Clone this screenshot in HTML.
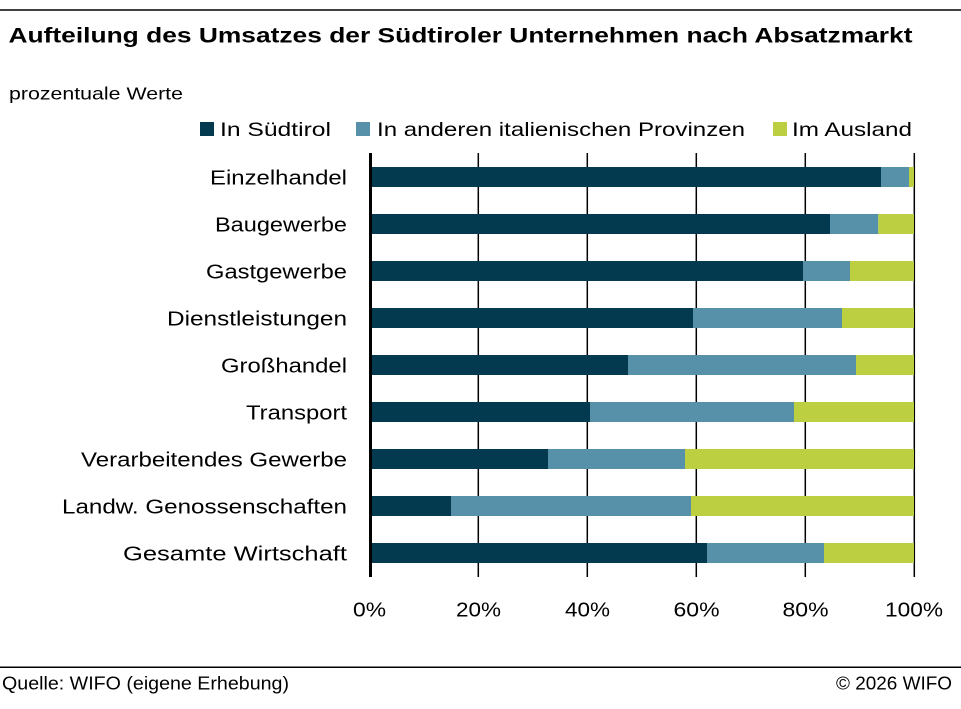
<!DOCTYPE html>
<html><head><meta charset="utf-8"><style>
html,body{margin:0;padding:0;background:#fff;}
svg{display:block;}
text{font-family:"Liberation Sans",sans-serif;fill:#000;}
</style></head><body>
<svg width="961" height="709" viewBox="0 0 961 709" xmlns="http://www.w3.org/2000/svg">
<rect width="961" height="709" fill="#fff"/>
<line x1="0" y1="10" x2="961" y2="10" stroke="#000" stroke-width="1.5"/>
<text x="8.5" y="42.5" font-size="21" font-weight="bold" textLength="904" lengthAdjust="spacingAndGlyphs">Aufteilung des Umsatzes der Südtiroler Unternehmen nach Absatzmarkt</text>
<text x="9" y="99.3" font-size="17.5" textLength="174" lengthAdjust="spacingAndGlyphs">prozentuale Werte</text>

<rect x="200" y="122" width="14" height="14" fill="#043a50"/>
<text x="220" y="136" font-size="19.5" textLength="111" lengthAdjust="spacingAndGlyphs">In Südtirol</text>
<rect x="356" y="122" width="14" height="14" fill="#5791a9"/>
<text x="377" y="136" font-size="19.5" textLength="368" lengthAdjust="spacingAndGlyphs">In anderen italienischen Provinzen</text>
<rect x="773" y="122" width="14" height="14" fill="#bccf40"/>
<text x="792" y="136" font-size="19.5" textLength="120" lengthAdjust="spacingAndGlyphs">Im Ausland</text>

<g stroke="#000" stroke-width="1.5">
<line x1="478.3" y1="153" x2="478.3" y2="577"/>
<line x1="587.3" y1="153" x2="587.3" y2="577"/>
<line x1="696.3" y1="153" x2="696.3" y2="577"/>
<line x1="805.3" y1="153" x2="805.3" y2="577"/>
<line x1="914.3" y1="153" x2="914.3" y2="577"/>
</g>

<g>
<!-- row 1 -->
<rect x="370" y="167" width="511" height="20" fill="#043a50"/>
<rect x="881" y="167" width="28" height="20" fill="#5791a9"/>
<rect x="909" y="167" width="5" height="20" fill="#bccf40"/>
<!-- row 2 -->
<rect x="370" y="214" width="460" height="20" fill="#043a50"/>
<rect x="830" y="214" width="48.3" height="20" fill="#5791a9"/>
<rect x="878.3" y="214" width="35.7" height="20" fill="#bccf40"/>
<!-- row 3 -->
<rect x="370" y="261" width="433" height="20" fill="#043a50"/>
<rect x="803" y="261" width="47" height="20" fill="#5791a9"/>
<rect x="850" y="261" width="64" height="20" fill="#bccf40"/>
<!-- row 4 -->
<rect x="370" y="308" width="323" height="20" fill="#043a50"/>
<rect x="693" y="308" width="149" height="20" fill="#5791a9"/>
<rect x="842" y="308" width="72" height="20" fill="#bccf40"/>
<!-- row 5 -->
<rect x="370" y="355" width="258" height="20" fill="#043a50"/>
<rect x="628" y="355" width="228" height="20" fill="#5791a9"/>
<rect x="856" y="355" width="58" height="20" fill="#bccf40"/>
<!-- row 6 -->
<rect x="370" y="402" width="220" height="20" fill="#043a50"/>
<rect x="590" y="402" width="204" height="20" fill="#5791a9"/>
<rect x="794" y="402" width="120" height="20" fill="#bccf40"/>
<!-- row 7 -->
<rect x="370" y="449" width="178" height="20" fill="#043a50"/>
<rect x="548" y="449" width="137" height="20" fill="#5791a9"/>
<rect x="685" y="449" width="229" height="20" fill="#bccf40"/>
<!-- row 8 -->
<rect x="370" y="496" width="81" height="20" fill="#043a50"/>
<rect x="451" y="496" width="240" height="20" fill="#5791a9"/>
<rect x="691" y="496" width="223" height="20" fill="#bccf40"/>
<!-- row 9 -->
<rect x="370" y="543" width="337" height="20" fill="#043a50"/>
<rect x="707" y="543" width="117" height="20" fill="#5791a9"/>
<rect x="824" y="543" width="90" height="20" fill="#bccf40"/>
</g>

<line x1="370.5" y1="153" x2="370.5" y2="577" stroke="#000" stroke-width="3"/>

<g font-size="20.5" text-anchor="end">
<text x="347" y="184.3" textLength="137" lengthAdjust="spacingAndGlyphs">Einzelhandel</text>
<text x="347" y="231.3" textLength="132" lengthAdjust="spacingAndGlyphs">Baugewerbe</text>
<text x="347" y="278.3" textLength="141" lengthAdjust="spacingAndGlyphs">Gastgewerbe</text>
<text x="347" y="325.3" textLength="180" lengthAdjust="spacingAndGlyphs">Dienstleistungen</text>
<text x="347" y="372.3" textLength="126" lengthAdjust="spacingAndGlyphs">Großhandel</text>
<text x="347" y="419.3" textLength="101" lengthAdjust="spacingAndGlyphs">Transport</text>
<text x="347" y="466.3" textLength="266" lengthAdjust="spacingAndGlyphs">Verarbeitendes Gewerbe</text>
<text x="347" y="513.3" textLength="285" lengthAdjust="spacingAndGlyphs">Landw. Genossenschaften</text>
<text x="347" y="560.3" textLength="224" lengthAdjust="spacingAndGlyphs">Gesamte Wirtschaft</text>
</g>

<g font-size="20.5">
<text x="353" y="616.7" textLength="33" lengthAdjust="spacingAndGlyphs">0%</text>
<text x="456" y="616.7" textLength="45" lengthAdjust="spacingAndGlyphs">20%</text>
<text x="565" y="616.7" textLength="45" lengthAdjust="spacingAndGlyphs">40%</text>
<text x="673.5" y="616.7" textLength="46" lengthAdjust="spacingAndGlyphs">60%</text>
<text x="782.5" y="616.7" textLength="46" lengthAdjust="spacingAndGlyphs">80%</text>
<text x="885" y="616.7" textLength="58" lengthAdjust="spacingAndGlyphs">100%</text>
</g>

<line x1="0" y1="667.3" x2="961" y2="667.3" stroke="#000" stroke-width="1.5"/>
<text x="2" y="689.3" font-size="18" textLength="287" lengthAdjust="spacingAndGlyphs">Quelle: WIFO (eigene Erhebung)</text>
<text x="836" y="689.3" font-size="18" textLength="116" lengthAdjust="spacingAndGlyphs">© 2026 WIFO</text>
</svg>
</body></html>
